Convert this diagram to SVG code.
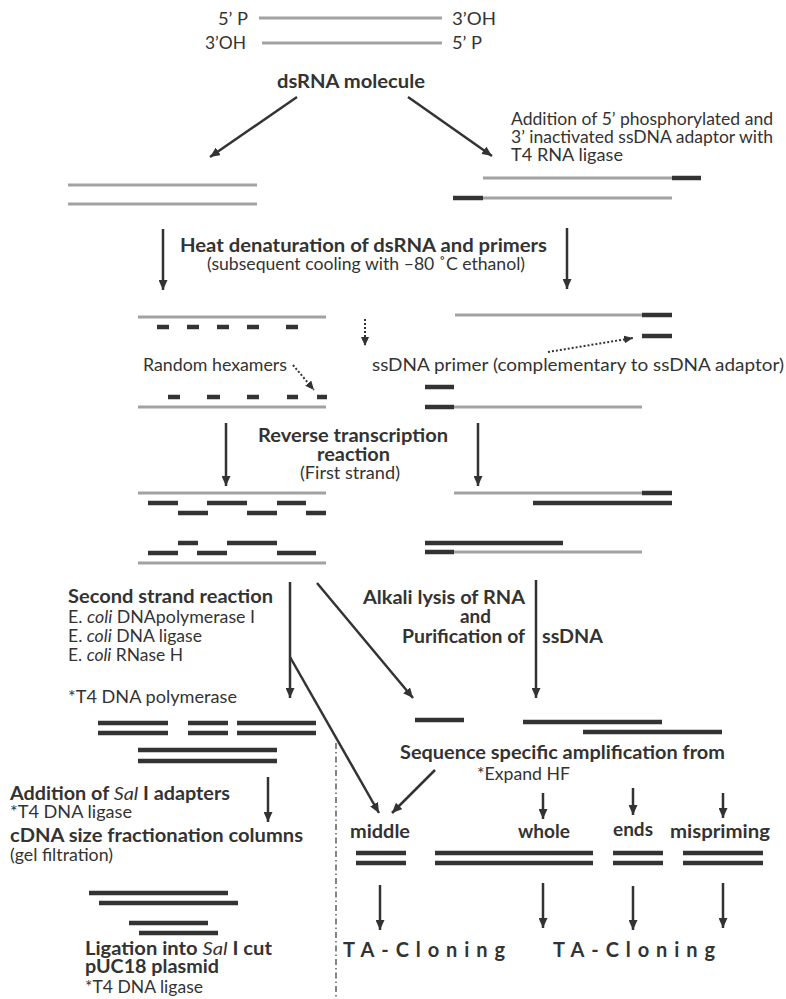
<svg xmlns="http://www.w3.org/2000/svg" width="786" height="999" viewBox="0 0 786 999">
<defs>
<style>
text{font-family:Lato,"Open Sans","DejaVu Sans",sans-serif;fill:#333;}
.b{font-weight:bold;font-size:18px;}
.r{font-size:17px;}
.ta{font-weight:bold;font-size:20px;}
.rna{stroke:#a2a2a2;stroke-width:3;fill:none;}
.dna{stroke:#333;stroke-width:4.5;fill:none;}
.arr{stroke:#333;stroke-width:2.5;fill:none;marker-end:url(#ah);}
.dot{stroke:#333;stroke-width:2;stroke-dasharray:2 2;fill:none;marker-end:url(#ahs);}
.dd{stroke:#444;stroke-width:1.3;stroke-dasharray:6 3 1.5 3;fill:none;}
</style>
<marker id="ah" markerUnits="userSpaceOnUse" markerWidth="10" markerHeight="9" refX="10" refY="4.5" orient="auto"><path d="M0,0 L10,4.5 L0,9 z" fill="#333"/></marker>
<marker id="ahs" markerUnits="userSpaceOnUse" markerWidth="9" markerHeight="8" refX="9" refY="4" orient="auto"><path d="M0,0 L9,4 L0,8 z" fill="#333"/></marker>
</defs>
<rect width="786" height="999" fill="#fff"/>

<g id="dsrna-top">
<line class="rna" x1="259" y1="18" x2="442" y2="18"/>
<line class="rna" x1="262" y1="43" x2="442" y2="43"/>
<text class="r" x="218" y="25" textLength="30" lengthAdjust="spacingAndGlyphs">5’ P</text>
<text class="r" x="452" y="25" textLength="44" lengthAdjust="spacingAndGlyphs">3’OH</text>
<text class="r" x="205" y="49" textLength="41" lengthAdjust="spacingAndGlyphs">3’OH</text>
<text class="r" x="452" y="49" textLength="30" lengthAdjust="spacingAndGlyphs">5’ P</text>
<text class="b" x="277" y="88" textLength="148" lengthAdjust="spacingAndGlyphs">dsRNA molecule</text>
</g>

<g id="adaptor-label">
<text class="r" x="511" y="125" textLength="262" lengthAdjust="spacingAndGlyphs">Addition of 5’ phosphorylated and</text>
<text class="r" x="511" y="143" textLength="262" lengthAdjust="spacingAndGlyphs">3’ inactivated ssDNA adaptor with</text>
<text class="r" x="511" y="161" textLength="112" lengthAdjust="spacingAndGlyphs">T4 RNA ligase</text>
</g>

<g id="left-dsrna">
<line class="rna" x1="68" y1="185" x2="257" y2="185"/>
<line class="rna" x1="68" y1="204" x2="257" y2="204"/>
</g>

<g id="right-adaptor">
<line class="rna" x1="483" y1="178" x2="672" y2="178"/>
<line class="dna" x1="672" y1="178" x2="701" y2="178"/>
<line class="dna" x1="453" y1="198" x2="483" y2="198"/>
<line class="rna" x1="483" y1="198" x2="672" y2="198"/>
</g>

<g id="heat-label">
<text class="b" x="180" y="252" textLength="367" lengthAdjust="spacingAndGlyphs">Heat denaturation of dsRNA and primers</text>
<text class="r" x="207" y="270" textLength="318" lengthAdjust="spacingAndGlyphs">(subsequent cooling with –80 ˚C ethanol)</text>
</g>

<g id="left-hexamers">
<line class="rna" x1="138" y1="317" x2="326" y2="317"/>
<path class="dna" d="M157,327h12M187,327h12M217,327h12M247,327h12M286,327h12"/>
<text class="r" x="143" y="371" textLength="144" lengthAdjust="spacingAndGlyphs">Random hexamers</text>
<path class="dna" d="M168,397h12M207,397h13M247,397h12M287,397h11M317,397h10"/>
<line class="rna" x1="138" y1="407" x2="326" y2="407"/>
</g>

<g id="right-primer">
<line class="rna" x1="455" y1="315" x2="642" y2="315"/>
<line class="dna" x1="642" y1="315" x2="672" y2="315"/>
<line class="dna" x1="642" y1="336" x2="672" y2="336"/>
<text class="r" x="372" y="371" textLength="412" lengthAdjust="spacingAndGlyphs">ssDNA primer (complementary to ssDNA adaptor)</text>
<line class="dna" x1="425" y1="387" x2="454" y2="387"/>
<line class="dna" x1="425" y1="407" x2="454" y2="407"/>
<line class="rna" x1="454" y1="407" x2="642" y2="407"/>
</g>

<g id="rt-label">
<text class="b" x="258" y="442" textLength="190" lengthAdjust="spacingAndGlyphs">Reverse transcription</text>
<text class="b" x="317" y="461" textLength="73" lengthAdjust="spacingAndGlyphs">reaction</text>
<text class="r" x="300" y="479" textLength="100" lengthAdjust="spacingAndGlyphs">(First strand)</text>
</g>

<g id="left-first-strand">
<line class="rna" x1="138" y1="493" x2="326" y2="493"/>
<path class="dna" d="M148,503h30M207,503h40M277,503h29"/>
<path class="dna" d="M178,513h30M247,513h30M306,513h20"/>
<path class="dna" d="M178,543h20M227,543h50"/>
<path class="dna" d="M148,553h30M197,553h30M277,553h39"/>
<line class="rna" x1="138" y1="563" x2="326" y2="563"/>
</g>

<g id="right-first-strand">
<line class="rna" x1="454" y1="493" x2="642" y2="493"/>
<line class="dna" x1="642" y1="493" x2="672" y2="493"/>
<line class="dna" x1="533" y1="503" x2="672" y2="503"/>
<line class="dna" x1="425" y1="543" x2="563" y2="543"/>
<line class="dna" x1="425" y1="552" x2="454" y2="552"/>
<line class="rna" x1="454" y1="552" x2="642" y2="552"/>
</g>

<g id="second-strand-label">
<text class="b" x="68" y="603" textLength="205" lengthAdjust="spacingAndGlyphs">Second strand reaction</text>
<text class="r" x="68" y="623" textLength="187" lengthAdjust="spacingAndGlyphs">E. <tspan font-style="italic">coli</tspan> DNApolymerase I</text>
<text class="r" x="68" y="642" textLength="134" lengthAdjust="spacingAndGlyphs">E. <tspan font-style="italic">coli</tspan> DNA ligase</text>
<text class="r" x="68" y="661" textLength="115" lengthAdjust="spacingAndGlyphs">E. <tspan font-style="italic">coli</tspan> RNase H</text>
<text class="r" x="68" y="703" textLength="169" lengthAdjust="spacingAndGlyphs">*T4 DNA polymerase</text>
</g>

<g id="ds-cdna">
<path class="dna" d="M98,723h70M188,723h40M237,723h79"/>
<path class="dna" d="M98,733h70M188,733h40M237,733h79"/>
<path class="dna" d="M138,750h139M138,761h139"/>
</g>

<g id="alkali-label">
<text class="b" x="363" y="604" textLength="162" lengthAdjust="spacingAndGlyphs">Alkali lysis of RNA</text>
<text class="b" x="460" y="623" textLength="31" lengthAdjust="spacingAndGlyphs">and</text>
<text class="b" x="402" y="643" textLength="123" lengthAdjust="spacingAndGlyphs">Purification of</text>
<text class="b" x="542" y="643" textLength="61" lengthAdjust="spacingAndGlyphs">ssDNA</text>
</g>

<g id="ssdna">
<line class="dna" x1="415" y1="720" x2="464" y2="720"/>
<line class="dna" x1="523" y1="722" x2="662" y2="722"/>
<line class="dna" x1="583" y1="732" x2="722" y2="732"/>
</g>

<g id="amplification-label">
<text class="b" x="400" y="759" textLength="325" lengthAdjust="spacingAndGlyphs">Sequence specific amplification from</text>
<text class="r" x="477" y="780" textLength="93" lengthAdjust="spacingAndGlyphs">*Expand HF</text>
</g>

<g id="sal-label">
<text class="b" x="10" y="800" textLength="220" lengthAdjust="spacingAndGlyphs">Addition of <tspan font-style="italic" font-weight="normal">Sal</tspan> I adapters</text>
<text class="r" x="10" y="818" textLength="122" lengthAdjust="spacingAndGlyphs">*T4 DNA ligase</text>
<text class="b" x="10" y="842" textLength="293" lengthAdjust="spacingAndGlyphs">cDNA size fractionation columns</text>
<text class="r" x="10" y="861" textLength="103" lengthAdjust="spacingAndGlyphs">(gel filtration)</text>
</g>

<g id="fractionated-cdna">
<line class="dna" x1="89" y1="893" x2="228" y2="893"/>
<line class="dna" x1="99" y1="903" x2="238" y2="903"/>
<line class="dna" x1="129" y1="923" x2="208" y2="923"/>
<line class="dna" x1="139" y1="933" x2="218" y2="933"/>
</g>

<g id="ligation-label">
<text class="b" x="85" y="955" textLength="187" lengthAdjust="spacingAndGlyphs">Ligation into <tspan font-style="italic" font-weight="normal">Sal</tspan> I cut</text>
<text class="b" x="85" y="973" textLength="134" lengthAdjust="spacingAndGlyphs">pUC18 plasmid</text>
<text class="r" x="85" y="993" textLength="118" lengthAdjust="spacingAndGlyphs">*T4 DNA ligase</text>
</g>

<g id="middle">
<text class="b" x="350" y="838" textLength="60" lengthAdjust="spacingAndGlyphs">middle</text>
<line class="dna" x1="356" y1="853" x2="406" y2="853"/>
<line class="dna" x1="356" y1="863" x2="406" y2="863"/>
</g>
<g id="whole">
<text class="b" x="518" y="838" textLength="52" lengthAdjust="spacingAndGlyphs">whole</text>
<line class="dna" x1="435" y1="853" x2="593" y2="853"/>
<line class="dna" x1="435" y1="863" x2="593" y2="863"/>
</g>
<g id="ends">
<text class="b" x="613" y="836" textLength="40" lengthAdjust="spacingAndGlyphs">ends</text>
<line class="dna" x1="613" y1="853" x2="663" y2="853"/>
<line class="dna" x1="613" y1="863" x2="663" y2="863"/>
</g>
<g id="mispriming">
<text class="b" x="670" y="838" textLength="100" lengthAdjust="spacingAndGlyphs">mispriming</text>
<line class="dna" x1="683" y1="853" x2="763" y2="853"/>
<line class="dna" x1="683" y1="863" x2="763" y2="863"/>
</g>

<g id="ta-cloning-1">
<text class="ta" x="343" y="957" textLength="162" lengthAdjust="spacing">TA-Cloning</text>
</g>
<g id="ta-cloning-2">
<text class="ta" x="553" y="957" textLength="162" lengthAdjust="spacing">TA-Cloning</text>
</g>

<g id="connectors">
<line class="arr" x1="297" y1="97" x2="210" y2="157"/>
<line class="arr" x1="408" y1="97" x2="492" y2="156"/>
<line class="arr" x1="163" y1="229" x2="163" y2="290"/>
<line class="arr" x1="567" y1="228" x2="567" y2="289"/>
<line class="dot" x1="365" y1="319" x2="365" y2="346"/>
<line class="dot" x1="293" y1="365" x2="314" y2="390"/>
<line class="dot" x1="548" y1="352" x2="633" y2="338"/>
<line class="arr" x1="226" y1="423" x2="226" y2="486"/>
<line class="arr" x1="478" y1="423" x2="478" y2="486"/>
<line class="arr" x1="290" y1="582" x2="290" y2="698"/>
<line class="arr" x1="536" y1="580" x2="536" y2="698"/>
<line class="arr" x1="317" y1="583" x2="413" y2="698"/>
<line class="arr" x1="290" y1="657" x2="379" y2="813"/>
<line class="arr" x1="435" y1="770" x2="392" y2="813"/>
<line class="arr" x1="268" y1="777" x2="268" y2="822"/>
<line class="arr" x1="543" y1="793" x2="543" y2="819"/>
<line class="arr" x1="633" y1="788" x2="633" y2="815"/>
<line class="arr" x1="723" y1="793" x2="723" y2="818"/>
<line class="arr" x1="380" y1="885" x2="380" y2="930"/>
<line class="arr" x1="543" y1="883" x2="543" y2="928"/>
<line class="arr" x1="633" y1="886" x2="633" y2="930"/>
<line class="arr" x1="723" y1="883" x2="723" y2="928"/>
<line class="dd" x1="336" y1="743" x2="336" y2="999"/>
</g>
</svg>
